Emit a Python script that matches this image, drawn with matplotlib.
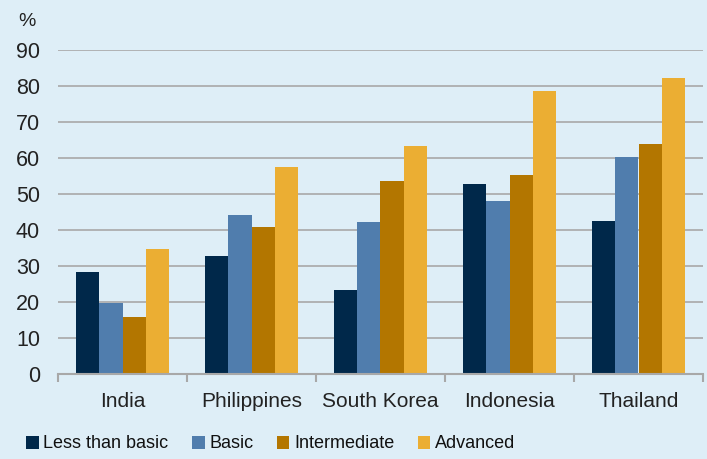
import numpy as np
import matplotlib.pyplot as plt

countries = ["India", "Philippines", "South Korea", "Indonesia", "Thailand"]
levels = ["Less than basic", "Basic", "Intermediate", "Advanced"]
less_than_basic = [28.4, 32.7, 23.3, 52.7, 42.6]
basic = [19.7, 44.2, 42.1, 48.1, 60.2]
intermediate = [15.8, 40.7, 53.6, 55.2, 63.8]
advanced = [34.7, 57.5, 63.2, 78.7, 82.1]
yticks = [0, 10, 20, 30, 40, 50, 60, 70, 80, 90]

colors = ["#00284A", "#507DAD", "#B37600", "#EBAE33"]
bg = "#DEEEF7"

plt.rcParams["font.family"] = ["Liberation Sans", "DejaVu Sans"]

fig = plt.figure(figsize=(7.07, 4.59), dpi=100, facecolor=bg)
ax = fig.add_axes([58 / 707, 1 - 374 / 459, 645 / 707, 324 / 459])
ax.set_facecolor(bg)

x = np.arange(len(countries))
w = 0.18
series = [less_than_basic, basic, intermediate, advanced]
for i, (vals, lab, c) in enumerate(zip(series, levels, colors)):
    ax.bar(x + (i - 1.5) * w, vals, w, color=c, label=lab, zorder=3)

ax.set_xlim(-0.5, len(countries) - 0.5)
ax.set_ylim(0, 90)
ax.set_yticks(yticks)
ax.yaxis.grid(True, color="#A8A8A8", linewidth=1.2, zorder=0)
ax.tick_params(axis="y", length=0, pad=13, labelsize=15.5, labelcolor="#222222")

ax.set_xticks(x)
ax.set_xticklabels(countries)
ax.set_xticks(np.arange(-0.5, len(countries)), minor=True)
ax.tick_params(axis="x", which="major", length=0, pad=13, labelsize=15, labelcolor="#222222")
ax.tick_params(axis="x", which="minor", length=6, width=1.5, color="#A8A8A8")

for s in ["top", "right", "left"]:
    ax.spines[s].set_visible(False)
ax.spines["bottom"].set_color("#A8A8A8")
ax.spines["bottom"].set_linewidth(1.5)
ax.spines["bottom"].set_zorder(4)

fig.text(18 / 707, 1 - 21 / 459, "%", fontsize=14, color="#222222", va="center")

fig.legend(loc="center left", bbox_to_anchor=(19 / 707, 1 - 444 / 459), ncol=4, frameon=False,
           fontsize=13, handlelength=0.7, handleheight=0.7, handletextpad=0.25,
           columnspacing=1.3, labelcolor="#111111", borderaxespad=0)

fig.savefig("out.png", dpi=100, facecolor=bg)
